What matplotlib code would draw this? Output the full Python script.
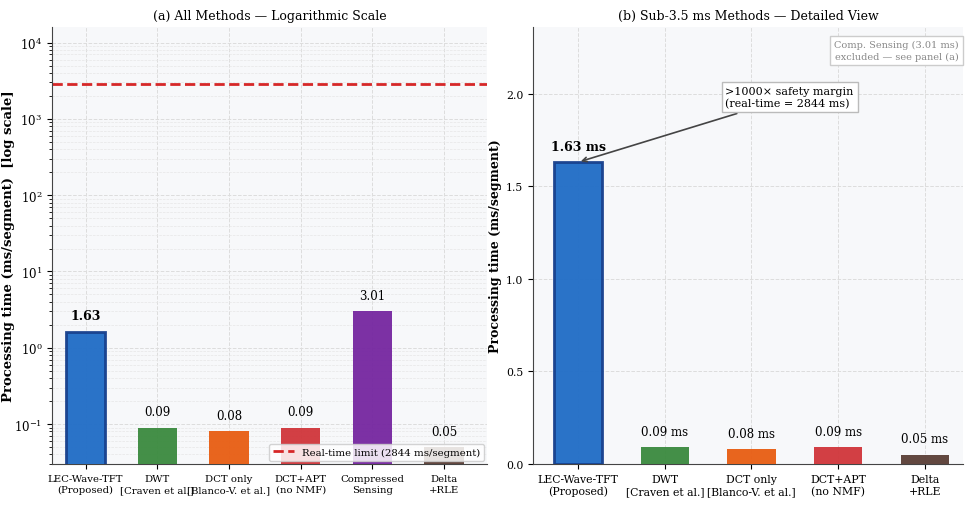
import matplotlib
matplotlib.use('Agg')
import matplotlib.pyplot as plt
import numpy as np

# data
methods = ["LEC-Wave-TFT\n(Proposed)", "DWT\n[Craven et al.]", "DCT only\n[Blanco-V. et al.]",
           "DCT+APT\n(no NMF)", "Compressed\nSensing", "Delta\n+RLE"]
times_ms = [1.63, 0.09, 0.08, 0.09, 3.01, 0.05]
colors = ["#1f6cc6", "#3a8a3e", "#e85d12", "#d0353a", "#7526a0", "#5a3e36"]
realtime_ms = 2844

# panel (b) drops compressed sensing
sub_idx = [0, 1, 2, 3, 5]

plt.rcParams['font.family'] = ['DejaVu Serif']
plt.rcParams['font.size'] = 8

fig = plt.figure(figsize=(9.66, 5.06), dpi=100)
ax1 = fig.add_axes([52/966, 1 - 465/506, 435/966, 437/506])
ax2 = fig.add_axes([533/966, 1 - 465/506, 430/966, 437/506])

bg = "#f7f8fa"
for ax in (ax1, ax2):
    ax.set_facecolor(bg)
    ax.spines['top'].set_visible(False)
    ax.spines['right'].set_visible(False)
    ax.spines['left'].set_color('#444444')
    ax.spines['bottom'].set_color('#444444')

# (a) log scale
x = np.arange(len(methods))
bars = ax1.bar(x, times_ms, width=0.55, color=colors, alpha=0.95, zorder=3)
bars[0].set_edgecolor("#163f8c")
bars[0].set_linewidth(2)
for i, b in enumerate(bars):
    v = times_ms[i]
    ax1.text(b.get_x() + b.get_width()/2, v * 1.33, f"{v:.2f}", ha='center', va='bottom',
             fontsize=9 if i == 0 else 8.5, fontweight='bold' if i == 0 else 'normal', zorder=4)
ax1.axhline(realtime_ms, color="#d62728", ls='--', lw=2, label=f"Real-time limit ({realtime_ms} ms/segment)", zorder=2)
ax1.set_yscale('log')
ax1.set_ylim(0.03, 1.6e4)
ax1.set_xlim(-0.47, 5.6)
ax1.set_xticks(x)
ax1.set_xticklabels(methods, fontsize=7.3, linespacing=1.3)
ax1.tick_params(axis='y', labelsize=8.5)
ax1.set_ylabel("Processing time (ms/segment)  [log scale]", fontsize=9.5, fontweight='bold')
ax1.yaxis.set_label_coords(-0.085, 0.5)
ax1.set_title("(a) All Methods — Logarithmic Scale", fontsize=9)
ax1.grid(True, which='major', ls='--', color='#dddddd', lw=0.7, zorder=0)
ax1.grid(True, which='minor', axis='y', ls='--', color='#e6e6e6', lw=0.5, zorder=0)
ax1.legend(loc='lower right', fontsize=7.3, framealpha=0.85, borderaxespad=0.3, handlelength=2)

# (b) linear, detailed
xs = np.arange(len(sub_idx))
sub_vals = [times_ms[i] for i in sub_idx]
sub_names = [methods[i] for i in sub_idx]
sub_cols = [colors[i] for i in sub_idx]
bars2 = ax2.bar(xs, sub_vals, width=0.56, color=sub_cols, alpha=0.95, zorder=3)
bars2[0].set_edgecolor("#163f8c")
bars2[0].set_linewidth(2)
for i, b in enumerate(bars2):
    v = sub_vals[i]
    ax2.text(b.get_x() + b.get_width()/2, v + 0.05, f"{v:.2f} ms", ha='center', va='bottom',
             fontsize=9 if i == 0 else 8.5, fontweight='bold' if i == 0 else 'normal', zorder=4)
ax2.set_ylim(0, 2.36)
ax2.set_xlim(-0.52, 4.44)
ax2.set_xticks(xs)
ax2.set_xticklabels(sub_names, fontsize=7.8, linespacing=1.25)
ax2.set_yticks([0.0, 0.5, 1.0, 1.5, 2.0])
ax2.tick_params(axis='y', labelsize=7.8)
ax2.set_ylabel("Processing time (ms/segment)", fontsize=9, fontweight='bold')
ax2.yaxis.set_label_coords(-0.072, 0.5)
ax2.set_title("(b) Sub-3.5 ms Methods — Detailed View", fontsize=9)
ax2.grid(True, ls='--', color='#dddddd', lw=0.7, zorder=0)
ax2.annotate(f">1000× safety margin\n(real-time = {realtime_ms} ms)",
             xy=(0, sub_vals[0]), xytext=(1.7, 1.98), fontsize=8, va='center', ha='left',
             bbox=dict(boxstyle='square,pad=0.35', fc='white', ec='#bbbbbb'),
             arrowprops=dict(arrowstyle='->', color='#444444', lw=1.2), zorder=5)
ax2.text(0.99, 0.97, f"Comp. Sensing ({times_ms[4]:.2f} ms)\nexcluded — see panel (a)",
         transform=ax2.transAxes, ha='right', va='top', fontsize=7, color='#888888',
         linespacing=1.4, bbox=dict(boxstyle='square,pad=0.4', fc='white', ec='#cccccc'))

fig.savefig("out.png", dpi=100)
